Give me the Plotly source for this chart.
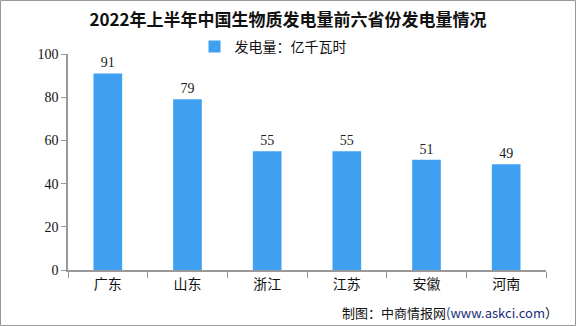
import plotly.graph_objects as go

categories = ["广东", "山东", "浙江", "江苏", "安徽", "河南"]
values = [91, 79, 55, 55, 51, 49]
series_name = "发电量：亿千瓦时"
title = "2022年上半年中国生物质发电量前六省份发电量情况"

W, H = 576, 326
ml, mr, mt, mb = 68, 30, 54, 56
pw, ph = W - ml - mr, H - mt - mb

fig = go.Figure()
fig.add_trace(go.Bar(
    x=categories, y=values, name=series_name,
    marker=dict(color="#3FA0F2", line=dict(width=0)),
    text=[str(v) for v in values], textposition="outside",
    textfont=dict(size=14, color="#222", family="Liberation Serif, Noto Sans CJK SC"),
    cliponaxis=False, width=0.36,
))

fig.update_layout(
    width=W, height=H,
    margin=dict(l=ml, r=mr, t=mt, b=mb),
    paper_bgcolor="white", plot_bgcolor="white",
    title=dict(text="<b>" + title + "</b>", x=0.5, xanchor="center", y=1 - 20 / H, yanchor="middle",
               font=dict(size=17, color="#111", family="Noto Sans CJK SC")),
    showlegend=True,
    legend=dict(orientation="h", x=0.5 - 34 / pw, xanchor="center", y=1 + 7 / ph, yanchor="middle",
                font=dict(size=14, color="#111", family="Noto Sans CJK SC"),
                itemwidth=30, bgcolor="rgba(0,0,0,0)"),
    bargap=0.64,
    xaxis=dict(showline=True, linecolor="#999", linewidth=1.5, ticks="outside", tickson="boundaries",
               ticklen=6, tickcolor="#999", tickwidth=1,
               tickfont=dict(size=14, color="#111", family="Noto Sans CJK SC"), showgrid=False),
    yaxis=dict(range=[0, 100], dtick=20, showline=True, linecolor="#999", linewidth=1.5,
               ticks="outside", ticklen=5, tickcolor="#999", showgrid=False, zeroline=False,
               tickfont=dict(size=14, color="#111", family="Liberation Serif")),
    shapes=[dict(type="rect", xref="paper", yref="paper",
                 x0=-(ml - 0.5) / pw, x1=1 + (mr - 0.5) / pw, y0=-(mb - 0.5) / ph, y1=1 + (mt - 0.5) / ph,
                 line=dict(color="#999", width=1))],
    annotations=[dict(xref="paper", yref="paper", x=1 + 14 / pw, y=-(mb - 14) / ph,
                      xanchor="right", yanchor="middle", showarrow=False,
                      text="制图：中商情报网<span style='color:#1a2e7a'>(www.askci.com</span>）",
                      font=dict(size=13, color="#111", family="Noto Sans CJK SC"))],
)

fig.write_html("out.html")
